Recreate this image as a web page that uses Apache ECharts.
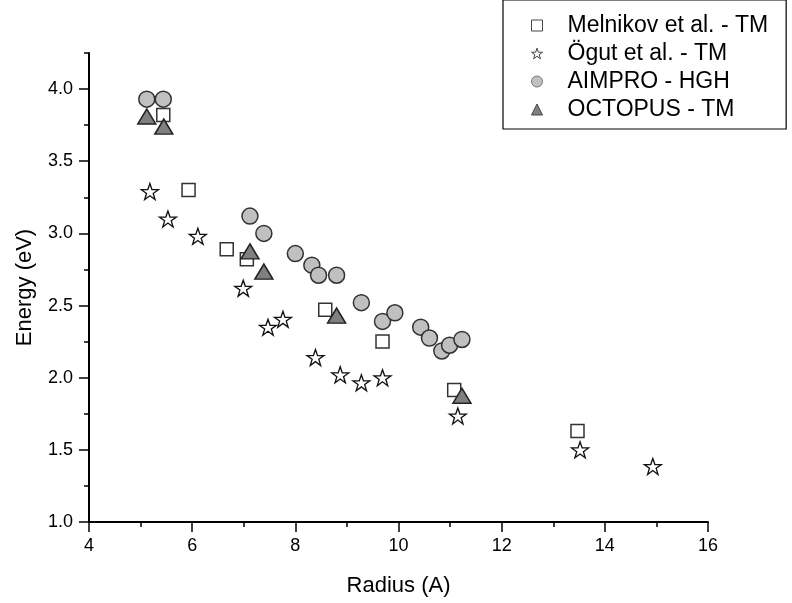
<!DOCTYPE html>
<html>
<head>
<meta charset="utf-8">
<script src="https://cdn.jsdelivr.net/npm/echarts@6/dist/echarts.min.js"></script>
<style>html,body{margin:0;padding:0;background:#fff;}#c{width:792px;height:603px;}</style>
</head>
<body>
<div id="c"></div>
<script>
var seriesNames = ['Melnikov et al. - TM', 'Ögut et al. - TM', 'AIMPRO - HGH', 'OCTOPUS - TM'];
var melnikovX = [5.44, 5.93, 6.67, 7.06, 8.58, 9.69, 11.08, 13.47];
var melnikovY = [3.82, 3.30, 2.89, 2.82, 2.47, 2.25, 1.915, 1.63];
var ogutX = [5.18, 5.53, 6.11, 6.99, 7.47, 7.76, 8.39, 8.87, 9.28, 9.69, 11.15, 13.52, 14.93];
var ogutY = [3.29, 3.10, 2.98, 2.62, 2.35, 2.405, 2.14, 2.02, 1.965, 2.00, 1.735, 1.50, 1.385];
var aimproX = [5.12, 5.44, 7.12, 7.39, 8.00, 8.32, 8.45, 8.80, 9.28, 9.69, 9.93, 10.43, 10.60, 10.84, 10.99, 11.23];
var aimproY = [3.93, 3.93, 3.12, 3.00, 2.86, 2.78, 2.71, 2.71, 2.52, 2.39, 2.45, 2.35, 2.275, 2.185, 2.225, 2.265];
var octopusX = [5.12, 5.45, 7.12, 7.39, 8.80, 11.23];
var octopusY = [3.81, 3.74, 2.875, 2.735, 2.43, 1.875];
var yMajorTicks = [1.0, 1.5, 2.0, 2.5, 3.0, 3.5, 4.0];
var yMinorTicks = [1.25, 1.75, 2.25, 2.75, 3.25, 3.75, 4.25];

function pairs(xs, ys) { return xs.map(function (x, i) { return [x, ys[i]]; }); }
var starPath = 'path://M50,0 L61.8,35.3 L98.1,35.3 L68.8,57.1 L79.4,92.7 L50,70.5 L20.6,92.7 L31.2,57.1 L1.9,35.3 L38.2,35.3 Z';
var FONT = '"Liberation Sans", Arial, Helvetica, sans-serif';

var chart = echarts.init(document.getElementById('c'), null, {renderer: 'canvas'});
chart.setOption({
  animation: false,
  backgroundColor: '#fff',
  textStyle: {fontFamily: FONT, color: '#000'},
  grid: {left: 89, right: 84, top: 53, bottom: 81, containLabel: false},
  legend: {
    orient: 'vertical', left: 503, top: 0,
    padding: [14, 18, 8, 28],
    borderColor: '#000', borderWidth: 1.2,
    itemGap: 5, itemWidth: 11, itemHeight: 11,
    textStyle: {fontSize: 23, fontFamily: FONT, color: '#000', padding: [0, 0, 0, 20]},
    data: [
      {name: seriesNames[0], icon: 'rect', itemStyle: {color: '#fff', borderColor: '#444', borderWidth: 1}},
      {name: seriesNames[1], icon: starPath, itemStyle: {color: '#fff', borderColor: '#444', borderWidth: 1}},
      {name: seriesNames[2], icon: 'circle', itemStyle: {color: '#c0c0c0', borderColor: '#777', borderWidth: 1}},
      {name: seriesNames[3], icon: 'triangle', itemStyle: {color: '#808080', borderColor: '#444', borderWidth: 1}}
    ]
  },
  xAxis: {
    type: 'value', min: 4, max: 16, interval: 2,
    name: 'Radius (A)', nameLocation: 'middle', nameGap: 53,
    nameTextStyle: {fontSize: 22, fontFamily: FONT, color: '#000'},
    axisLine: {lineStyle: {color: '#000', width: 2}},
    axisTick: {inside: false, length: 10, lineStyle: {color: '#000', width: 1.5}},
    minorTick: {show: true, splitNumber: 2, length: 5, lineStyle: {color: '#000', width: 1.5}},
    axisLabel: {fontSize: 18, margin: 15, color: '#000', fontFamily: FONT},
    splitLine: {show: false}
  },
  yAxis: [{
    type: 'value', min: 1.0, max: 4.25, interval: 0.5,
    name: 'Energy (eV)', nameLocation: 'middle', nameGap: 53,
    nameTextStyle: {fontSize: 22, fontFamily: FONT, color: '#000'},
    axisLine: {lineStyle: {color: '#000', width: 2}},
    axisTick: {inside: false, length: 10, customValues: yMajorTicks, lineStyle: {color: '#000', width: 1.5}},
    axisLabel: {fontSize: 18, margin: 16, color: '#000', fontFamily: FONT, customValues: yMajorTicks,
      formatter: function (v) { return v.toFixed(1); }},
    splitLine: {show: false}
  }, {
    type: 'value', min: 1.0, max: 4.25, position: 'left',
    axisLine: {show: false},
    axisTick: {inside: false, length: 5, customValues: yMinorTicks, lineStyle: {color: '#000', width: 1.5}},
    axisLabel: {show: false},
    splitLine: {show: false}
  }],
  series: [
    {name: seriesNames[0], type: 'scatter', data: pairs(melnikovX, melnikovY), symbol: 'rect', symbolSize: 13,
      itemStyle: {color: '#fff', borderColor: '#333', borderWidth: 1.5, opacity: 1}},
    {name: seriesNames[1], type: 'scatter', data: pairs(ogutX, ogutY), symbol: starPath, symbolSize: [17, 16],
      itemStyle: {color: '#fff', borderColor: '#111', borderWidth: 1.3, opacity: 1}},
    {name: seriesNames[2], type: 'scatter', data: pairs(aimproX, aimproY), symbol: 'circle', symbolSize: 16,
      itemStyle: {color: '#c0c0c0', borderColor: '#333', borderWidth: 1.5, opacity: 1}},
    {name: seriesNames[3], type: 'scatter', data: pairs(octopusX, octopusY), symbol: 'triangle', symbolSize: [18, 15],
      itemStyle: {color: '#808080', borderColor: '#222', borderWidth: 1.5, opacity: 1}}
  ]
});
</script>
</body>
</html>
